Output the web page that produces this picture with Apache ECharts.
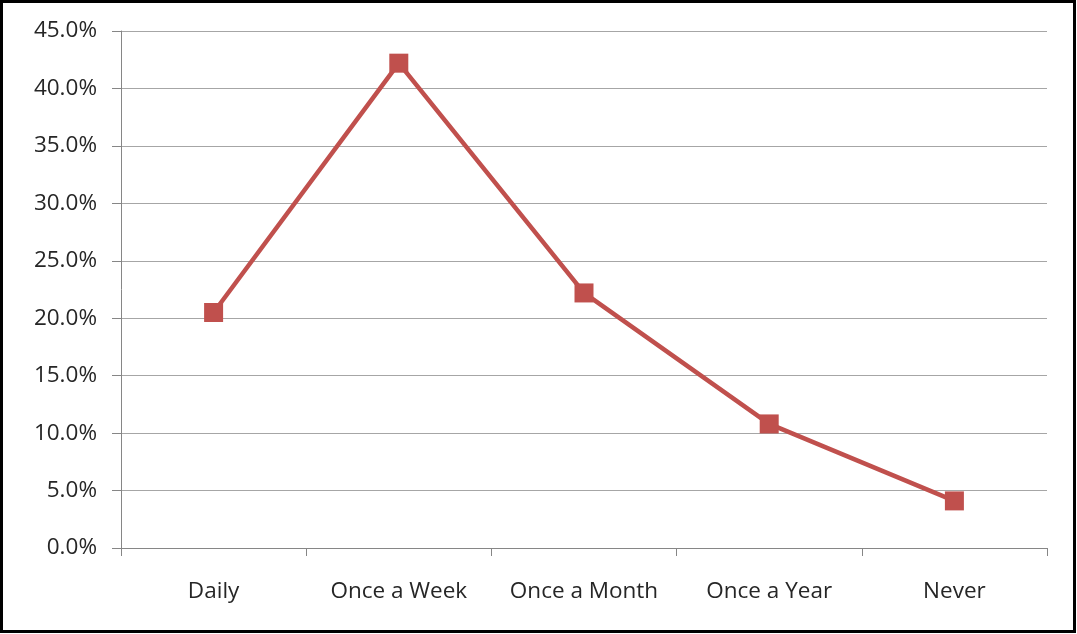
<!DOCTYPE html>
<html>
<head>
<meta charset="utf-8">
<style>
  html, body { margin: 0; padding: 0; background: #fff; }
  #chart { width: 1077px; height: 634px; }
</style>
<script src="https://cdn.jsdelivr.net/npm/echarts@6/dist/echarts.min.js"></script>
</head>
<body>
<div id="chart"></div>
<script>
// Frequency categories and share of respondents (%)
const categories = ['Daily', 'Once a Week', 'Once a Month', 'Once a Year', 'Never'];
const shares = [20.5, 42.2, 22.2, 10.8, 4.1];

const chart = echarts.init(document.getElementById('chart'), null, { renderer: 'canvas' });
const labelFont = "'Open Sans', 'Noto Sans', sans-serif";

chart.setOption({
  animation: false,
  backgroundColor: '#ffffff',
  graphic: [{
    type: 'rect',
    silent: true,
    shape: { x: 1.5, y: 1.5, width: 1073, height: 630 },
    style: { fill: 'none', stroke: '#000000', lineWidth: 3 }
  }],
  grid: { left: 121, right: 30, top: 31, bottom: 86, containLabel: false },
  xAxis: {
    type: 'category',
    data: categories,
    boundaryGap: true,
    axisLine: { show: true, lineStyle: { color: '#868686', width: 1 } },
    axisTick: { show: true, interval: 0, length: 8, lineStyle: { color: '#868686' } },
    axisLabel: {
      interval: 0, hideOverlap: false,
      color: '#262626', fontFamily: labelFont, fontSize: 22.5, margin: 32
    }
  },
  yAxis: {
    type: 'value',
    min: 0,
    max: 45,
    interval: 5,
    axisLine: { show: true, lineStyle: { color: '#868686', width: 1 } },
    axisTick: { show: true, length: 9, lineStyle: { color: '#868686' } },
    splitLine: { show: true, lineStyle: { color: '#a6a6a6', width: 1 } },
    axisLabel: {
      color: '#262626', fontFamily: labelFont, fontSize: 22.5, margin: 24,
      formatter: v => v.toFixed(1) + '%'
    }
  },
  series: [{
    type: 'line',
    data: shares,
    symbol: 'rect',
    symbolSize: 19,
    lineStyle: { color: '#c0504d', width: 4.5 },
    itemStyle: { color: '#c0504d' }
  }]
});
</script>
</body>
</html>
